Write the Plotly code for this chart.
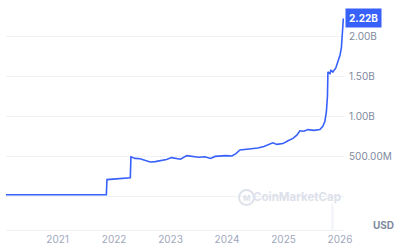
import plotly.graph_objects as go

dates = [
    "2020-02-02", "2021-11-12", "2021-11-16", "2022-01-08", "2022-02-21", "2022-04-16",
    "2022-04-20", "2022-05-17", "2022-06-18", "2022-07-15", "2022-08-22", "2022-09-24",
    "2022-10-27", "2022-12-06", "2023-01-08", "2023-02-03", "2023-03-07", "2023-04-16",
    "2023-05-23", "2023-07-02", "2023-08-11", "2023-09-17", "2023-10-16", "2023-11-22",
    "2023-12-25", "2024-02-02", "2024-02-28", "2024-03-25", "2024-04-26", "2024-06-11",
    "2024-07-19", "2024-08-27", "2024-10-05", "2024-10-24", "2024-11-19", "2024-12-28",
    "2025-01-30", "2025-03-03", "2025-03-28", "2025-04-17", "2025-05-13", "2025-06-08",
    "2025-07-16", "2025-08-24", "2025-09-12", "2025-09-25", "2025-10-05", "2025-10-12",
    "2025-10-15", "2025-10-28", "2025-11-03", "2025-11-16", "2025-12-05", "2025-12-18",
    "2026-01-01", "2026-01-10", "2026-01-16", "2026-01-23",
]
market_cap_m = [
    15, 15, 205, 210, 215, 228,
    490, 470, 465, 445, 425, 430,
    440, 455, 480, 470, 460, 505,
    495, 485, 490, 470, 495, 500,
    505, 500, 530, 575, 580, 585,
    600, 620, 650, 665, 645, 655,
    690, 720, 760, 815, 810, 830,
    820, 830, 870, 930, 1050, 1250,
    1550, 1530, 1570, 1550, 1600, 1680,
    1760, 1850, 2050, 2220,
]

vol_dates = ["2025-11-05", "2025-11-12", "2025-11-19"]
vol_values = [26, 28, 25]

ytick_vals = [0, 500e6, 1e9, 1.5e9, 2e9]
ytick_text = ["", "500.00M", "1.00B", "1.50B", "2.00B"]
xtick_vals = ["2021-01-01", "2022-01-01", "2023-01-01", "2024-01-01", "2025-01-01", "2026-01-01"]
xtick_text = ["2021", "2022", "2023", "2024", "2025", "2026"]
last_label = "2.22B"

font = "Inter, Noto Sans, sans-serif"
blue = "#3861fb"

fig = go.Figure()
fig.add_trace(go.Bar(
    x=vol_dates, y=vol_values, yaxis="y2",
    marker=dict(color="rgba(225,229,238,0.35)", line=dict(width=0)),
    width=6 * 86400000, hoverinfo="skip",
))
fig.add_trace(go.Scatter(
    x=dates, y=[v * 1e6 for v in market_cap_m], mode="lines",
    line=dict(color=blue, width=1.6), hoverinfo="skip",
))

fig.update_layout(
    width=400, height=250,
    margin=dict(l=6, r=56, t=0, b=20),
    paper_bgcolor="white", plot_bgcolor="white",
    showlegend=False,
    font=dict(family=font, color="#808a9d", size=10),
    xaxis=dict(
        type="date", range=["2020-02-02", "2026-01-27"],
        tickvals=xtick_vals, ticktext=xtick_text,
        showgrid=False, zeroline=False,
        showline=True, linecolor="#eff2f5", linewidth=1, mirror=True,
        ticks="", tickfont=dict(size=10, color="#a1a7bb"),
    ),
    yaxis=dict(
        side="right", range=[-425e6, 2450e6],
        tickvals=ytick_vals, ticktext=ytick_text,
        showgrid=True, gridcolor="#eff2f5", gridwidth=1,
        zeroline=False, showline=False, ticks="",
        ticklabelstandoff=4,
        tickfont=dict(size=10, color="#808a9d"),
    ),
    yaxis2=dict(
        overlaying="y", range=[0, 230], visible=False,
    ),
    bargap=0,
)

fig.add_annotation(
    xref="paper", yref="y", x=1, y=2.22e9, xanchor="left", yanchor="middle",
    xshift=1, text="<b>" + last_label + "</b>", showarrow=False,
    font=dict(color="white", size=10, family=font),
    bgcolor=blue, borderpad=3,
)
fig.add_annotation(
    xref="paper", yref="paper", x=(383 - 6) / 338, y=0.0, xanchor="center", yanchor="bottom",
    yshift=-3, text="<b>USD</b>", showarrow=False,
    font=dict(color="#808a9d", size=10, family=font),
)
fig.add_annotation(
    xref="paper", yref="paper", x=(297 - 6) / 338, y=(230 - 197) / 230,
    xanchor="center", yanchor="middle",
    text="<b>CoinMarketCap</b>", showarrow=False,
    font=dict(color="#dde1ea", size=11.5, family=font),
)
fig.add_shape(
    type="circle", xref="paper", yref="paper",
    x0=(239 - 6) / 338, x1=(254 - 6) / 338, y0=(230 - 205) / 230, y1=(230 - 190) / 230,
    line=dict(color="#dde1ea", width=2),
)
fig.add_annotation(
    xref="paper", yref="paper", x=(246.5 - 6) / 338, y=(230 - 197.5) / 230,
    xanchor="center", yanchor="middle",
    text="<b>M</b>", showarrow=False,
    font=dict(color="#dde1ea", size=8, family=font),
)

fig.write_html("out.html")
